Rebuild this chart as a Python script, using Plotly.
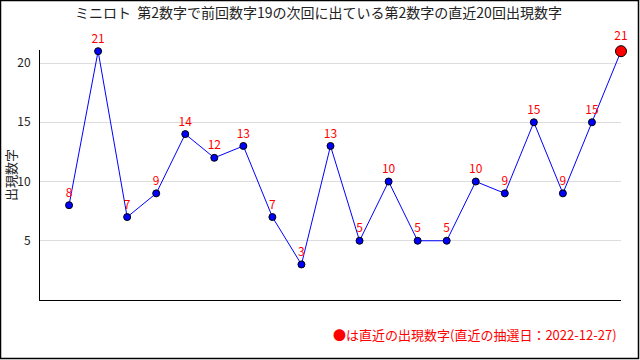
import plotly.graph_objects as go

values = [8, 21, 7, 9, 14, 12, 13, 7, 3, 13, 5, 10, 5, 5, 10, 9, 15, 9, 15, 21]
x_idx = list(range(len(values)))
y_ticks = [5, 10, 15, 20]
title = "ミニロト  第2数字で前回数字19の次回に出ている第2数字の直近20回出現数字"
y_title = "出現数字"
note = "●は直近の出現数字(直近の抽選日：2022-12-27)"

FONT = "Noto Sans CJK JP"
W, H = 640, 360
L, R, T, B = 40, 19, 50, 60

colors = ["#0000ff"] * (len(values) - 1) + ["#ff0000"]
sizes = [7] * (len(values) - 1) + [11]

fig = go.Figure()
fig.add_trace(go.Scatter(
    x=x_idx, y=values, mode="lines+markers+text",
    line=dict(color="#0000ff", width=1),
    marker=dict(color=colors, size=sizes, opacity=1, line=dict(color="#000000", width=1)),
    text=[str(v) for v in values], textposition="top center",
    textfont=dict(color="#ff0000", size=12, family=FONT),
    cliponaxis=False, showlegend=False,
))

pw, ph = W - L - R, H - T - B
def px(x):
    return (x - L) / pw
def py(y):
    return (H - B - y) / ph

fig.add_shape(type="rect", xref="paper", yref="paper",
              x0=px(0.5), x1=px(638.5), y0=py(0.5), y1=py(358.5),
              line=dict(color="black", width=1.5), layer="above")

fig.add_annotation(text=title, xref="paper", yref="paper",
                   x=px(318), y=py(12), xanchor="center", yanchor="middle",
                   showarrow=False, font=dict(color="#222222", size=14, family=FONT))

fig.add_annotation(text=y_title, xref="paper", yref="paper",
                   x=px(10), y=py(175), xanchor="center", yanchor="middle", textangle=-90,
                   showarrow=False, font=dict(color="#222222", size=13, family=FONT))

fig.add_annotation(text=note, xref="paper", yref="paper",
                   x=px(619), y=py(334), xanchor="right", yanchor="middle",
                   showarrow=False, font=dict(color="#ff0000", size=13, family=FONT))

fig.update_layout(
    width=W, height=H,
    margin=dict(l=L, r=R, t=T, b=B, autoexpand=False),
    paper_bgcolor="white", plot_bgcolor="white",
    font=dict(family=FONT, size=12, color="#222222"),
    xaxis=dict(range=[-1, 19], showticklabels=False, showgrid=False, zeroline=False,
               showline=True, linecolor="black", linewidth=1, ticks="", automargin=False),
    yaxis=dict(range=[0, 21.1], tickvals=y_ticks, showgrid=True, gridcolor="#dddddd",
               zeroline=False, showline=True, linecolor="black", linewidth=1, ticks="",
               ticklabelstandoff=6, automargin=False,
               tickfont=dict(size=12, family=FONT)),
)

fig.write_html("out.html")
